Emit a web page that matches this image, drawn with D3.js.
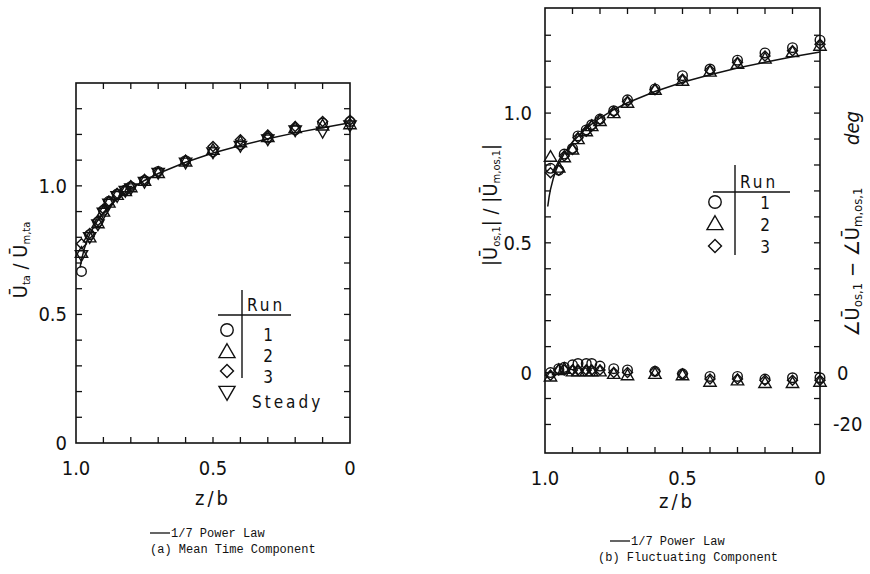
<!DOCTYPE html>
<html><head><meta charset="utf-8">
<script src="https://cdn.jsdelivr.net/npm/d3@7/dist/d3.min.js"></script>
<style>
body{margin:0;background:#fff;}
svg{display:block;}
.tk{font-family:"Liberation Sans Narrow","DejaVu Sans Condensed","Liberation Sans",sans-serif;font-size:20px;fill:#111;}
.lg{font-family:"Liberation Sans Narrow","DejaVu Sans Condensed","Liberation Sans",sans-serif;font-size:17px;fill:#111;}
.cap{font-family:"Liberation Mono","DejaVu Sans Mono",monospace;font-size:12px;fill:#111;}
</style></head><body>
<svg id="c" width="870" height="574"></svg>
<script>
// ---------- DATA ----------
// (a) Mean time component: z/b positions and U_ta/U_m,ta
const zA = [0.98, 0.95, 0.92, 0.90, 0.88, 0.85, 0.82, 0.80, 0.75, 0.70, 0.60, 0.50, 0.40, 0.30, 0.20, 0.10, 0.00];
const meanRun1   = [0.667, 0.810, 0.860, 0.905, 0.940, 0.968, 0.984, 0.997, 1.021, 1.056, 1.098, 1.133, 1.160, 1.186, 1.218, 1.244, 1.250];
const meanRun2   = [0.740, 0.800, 0.855, 0.900, 0.935, 0.965, 0.980, 0.995, 1.020, 1.050, 1.095, 1.140, 1.170, 1.190, 1.225, 1.235, 1.240];
const meanRun3   = [0.775, 0.815, 0.865, 0.910, 0.940, 0.970, 0.985, 1.000, 1.025, 1.055, 1.100, 1.153, 1.179, 1.198, 1.231, 1.250, 1.255];
const meanSteady = [0.730, 0.800, 0.850, 0.895, 0.930, 0.960, 0.980, 0.990, 1.015, 1.050, 1.090, 1.130, 1.155, 1.180, 1.215, 1.210, 1.235];
// 1/7 power law curve
const curveAz = [0.985, 0.98, 0.97, 0.96, 0.95, 0.93, 0.90, 0.85, 0.80, 0.75, 0.70, 0.60, 0.50, 0.40, 0.30, 0.20, 0.10, 0.00];
const curveAv = [0.683, 0.712, 0.754, 0.786, 0.811, 0.851, 0.896, 0.949, 0.989, 1.021, 1.048, 1.092, 1.128, 1.157, 1.183, 1.206, 1.226, 1.245];

// (b) Fluctuating component
const zB = [0.98, 0.95, 0.93, 0.90, 0.88, 0.85, 0.83, 0.80, 0.75, 0.70, 0.60, 0.50, 0.40, 0.30, 0.20, 0.10, 0.00];
const ampRun1 = [0.787, 0.780, 0.842, 0.864, 0.912, 0.935, 0.955, 0.977, 1.009, 1.051, 1.093, 1.144, 1.170, 1.204, 1.232, 1.252, 1.281];
const ampRun2 = [0.832, 0.790, 0.830, 0.860, 0.900, 0.930, 0.950, 0.970, 1.000, 1.040, 1.090, 1.125, 1.160, 1.190, 1.210, 1.235, 1.260];
const ampRun3 = [0.770, 0.780, 0.835, 0.860, 0.905, 0.930, 0.950, 0.975, 1.005, 1.045, 1.090, 1.130, 1.165, 1.195, 1.220, 1.240, 1.265];
// phase difference, deg
const phRun1 = [0.0, 1.5, 2.0, 3.0, 3.5, 3.5, 3.5, 2.5, 1.5, 1.0, 0.5, -0.5, -1.5, -1.5, -2.5, -2.0, -2.0];
const phRun2 = [-1.5, 1.0, 1.5, 0.5, 0.5, 0.5, 0.5, 0.5, -0.5, -1.0, -0.5, -1.0, -3.5, -3.0, -4.0, -4.0, -3.5];
const phRun3 = [-1.0, 1.0, 1.0, 1.0, 1.0, 1.0, 1.0, 1.0, 0.0, 0.0, 0.5, -0.5, -2.5, -2.5, -3.0, -3.0, -3.0];
const curveBz = [0.99, 0.985, 0.98, 0.97, 0.96, 0.95, 0.93, 0.90, 0.85, 0.80, 0.75, 0.70, 0.60, 0.50, 0.40, 0.30, 0.20, 0.10, 0.00];
const curveBv = [0.640, 0.678, 0.706, 0.748, 0.780, 0.805, 0.845, 0.889, 0.942, 0.981, 1.013, 1.040, 1.083, 1.119, 1.148, 1.174, 1.196, 1.217, 1.235];

const runLabelsA = ["1", "2", "3", "Steady"];
const runLabelsB = ["1", "2", "3"];
const xTickLabels = [["1.0", 1], ["0.5", 0.5], ["0", 0]];
const yTickLabelsA = [["0", 0], ["0.5", 0.5], ["1.0", 1.0]];
const yTickLabelsB = [["0", 0], ["0.5", 0.5], ["1.0", 1.0]];
const degTickLabels = [["0", 0], ["-20", -20]];

// ---------- DRAW ----------
const svg = d3.select("#c");
const ink = "#111";

const xA = d3.scaleLinear().domain([1, 0]).range([76, 350]);
const yA = d3.scaleLinear().domain([0, 1.4]).range([443, 83]);
const xB = d3.scaleLinear().domain([1, 0]).range([545, 820]);
const yB = d3.scaleLinear().domain([-0.31, 1.405]).range([453, 8]);
const yD = d3.scaleLinear().domain([-31, 140.5]).range([453, 8]);

const symTri = d3.symbol().type(d3.symbolTriangle);
const symSq = d3.symbol().type(d3.symbolSquare);
function marker(g, kind, x, y, s) {
  s = s || 1;
  if (kind === 0) g.append("circle").attr("cx", x).attr("cy", y).attr("r", 4.8 * s);
  else if (kind === 1) g.append("path").attr("d", symTri.size(66 * s * s)()).attr("transform", `translate(${x},${y + 1})`);
  else if (kind === 2) g.append("path").attr("d", symSq.size(50 * s * s)()).attr("transform", `translate(${x},${y}) rotate(45)`);
  else g.append("path").attr("d", symTri.size(66 * s * s)()).attr("transform", `translate(${x},${y - 1}) rotate(180)`);
}

function frame(x, y) {
  const [x0, x1] = x.range(), [y0, y1] = y.range();
  svg.append("rect").attr("x", Math.min(x0, x1)).attr("y", Math.min(y0, y1))
    .attr("width", Math.abs(x1 - x0)).attr("height", Math.abs(y1 - y0))
    .attr("fill", "none").attr("stroke", ink).attr("stroke-width", 1.6);
}
function tickAxes(x, y, yt, yRightScale, yRightTicks) {
  const xt = d3.range(0.1, 0.95, 0.1);
  const [yb, ytop] = y.range();
  const [xl, xr] = x.range();
  const g = svg.append("g").attr("stroke", ink).attr("stroke-width", 1.3);
  xt.forEach(v => {
    g.append("line").attr("x1", x(v)).attr("x2", x(v)).attr("y1", yb).attr("y2", yb - 6);
    g.append("line").attr("x1", x(v)).attr("x2", x(v)).attr("y1", ytop).attr("y2", ytop + 6);
  });
  yt.forEach(v => g.append("line").attr("x1", xl).attr("x2", xl + 6).attr("y1", y(v)).attr("y2", y(v)));
  const rs = yRightScale || y, rt = yRightTicks || yt;
  rt.forEach(v => g.append("line").attr("x1", xr).attr("x2", xr - 6).attr("y1", rs(v)).attr("y2", rs(v)));
}
const line = (xs, ys) => d3.line().x(d => xs(d[0])).y(d => ys(d[1]));

// ----- panel (a) -----
frame(xA, yA);
tickAxes(xA, yA, d3.range(0.1, 1.35, 0.1));
svg.append("path").datum(curveAz.map((z, i) => [z, curveAv[i]]))
  .attr("d", line(xA, yA)).attr("fill", "none").attr("stroke", ink).attr("stroke-width", 1.5);
const mA = svg.append("g").attr("fill", "none").attr("stroke", ink).attr("stroke-width", 1.4);
[meanSteady, meanRun3, meanRun2, meanRun1].forEach((arr, k) => {
  const kind = 3 - k;
  arr.forEach((v, i) => marker(mA, kind, xA(zA[i]), yA(v)));
});
svg.append("g").selectAll("text").data(yTickLabelsA).join("text").attr("class", "tk")
  .attr("x", 67).attr("y", d => yA(d[1]) + 7).attr("text-anchor", "end").text(d => d[0]);
svg.append("g").selectAll("text").data(xTickLabels).join("text").attr("class", "tk")
  .attr("x", d => xA(d[1])).attr("y", 475).attr("text-anchor", "middle").text(d => d[0]);
svg.append("text").attr("class", "tk").attr("x", 213).attr("y", 505).attr("text-anchor", "middle")
  .attr("letter-spacing", 3).text("z/b");
{
  const t = svg.append("text").attr("class", "tk").attr("font-size", 17)
    .attr("transform", "translate(27,260) rotate(-90)").attr("text-anchor", "middle");
  t.append("tspan").text("Ū");
  t.append("tspan").attr("font-size", 11).attr("dy", 3).text("ta");
  t.append("tspan").attr("dy", -3).text(" / Ū");
  t.append("tspan").attr("font-size", 11).attr("dy", 3).text("m,ta");
}
{
  const g = svg.append("g");
  g.append("line").attr("x1", 242).attr("x2", 242).attr("y1", 290).attr("y2", 378).attr("stroke", ink).attr("stroke-width", 1.4);
  g.append("line").attr("x1", 218).attr("x2", 291).attr("y1", 315).attr("y2", 315).attr("stroke", ink).attr("stroke-width", 1.4);
  g.append("text").attr("class", "lg").attr("font-size", 18).attr("x", 247).attr("y", 311).attr("letter-spacing", 3).text("Run");
  const ys = [330, 352, 371, 392];
  const ly = [341, 362, 383, 408];
  const sg = g.append("g").attr("fill", "none").attr("stroke", ink).attr("stroke-width", 1.4);
  runLabelsA.forEach((lab, i) => {
    marker(sg, i, 227, ys[i], 1.3);
    const st = lab === "Steady";
    g.append("text").attr("class", "lg").attr("x", st ? 252 : 268).attr("y", ly[i])
      .attr("text-anchor", st ? "start" : "middle").attr("letter-spacing", st ? 3 : 0).text(lab);
  });
}

// ----- panel (b) -----
frame(xB, yB);
tickAxes(xB, yB, d3.range(-0.2, 1.35, 0.1), yD, d3.range(-20, 135, 10));
svg.append("path").datum(curveBz.map((z, i) => [z, curveBv[i]]))
  .attr("d", line(xB, yB)).attr("fill", "none").attr("stroke", ink).attr("stroke-width", 1.5);
const mB = svg.append("g").attr("fill", "none").attr("stroke", ink).attr("stroke-width", 1.4);
[ampRun3, ampRun2, ampRun1].forEach((arr, k) => {
  const kind = 2 - k;
  arr.forEach((v, i) => marker(mB, kind, xB(zB[i]), yB(v)));
});
[phRun3, phRun2, phRun1].forEach((arr, k) => {
  const kind = 2 - k;
  arr.forEach((v, i) => marker(mB, kind, xB(zB[i]), yD(v)));
});
svg.append("g").selectAll("text").data(yTickLabelsB).join("text").attr("class", "tk")
  .attr("x", 532).attr("y", d => yB(d[1]) + 7).attr("text-anchor", "end").text(d => d[0]);
svg.append("g").selectAll("text").data(degTickLabels).join("text").attr("class", "tk")
  .attr("x", d => d[1] === 0 ? 837 : 833).attr("y", d => yD(d[1]) + 7).attr("text-anchor", "start").text(d => d[0]);
svg.append("g").selectAll("text").data(xTickLabels).join("text").attr("class", "tk")
  .attr("x", d => xB(d[1])).attr("y", 485).attr("text-anchor", "middle").text(d => d[0]);
svg.append("text").attr("class", "tk").attr("x", 677).attr("y", 508).attr("text-anchor", "middle")
  .attr("letter-spacing", 3).text("z/b");
{
  const t = svg.append("text").attr("class", "tk").attr("font-size", 18)
    .attr("transform", "translate(497,205) rotate(-90)").attr("text-anchor", "middle");
  t.append("tspan").text("|Ū");
  t.append("tspan").attr("font-size", 11).attr("dy", 3).text("os,1");
  t.append("tspan").attr("dy", -3).text("| / |Ū");
  t.append("tspan").attr("font-size", 11).attr("dy", 3).text("m,os,1");
  t.append("tspan").attr("dy", -3).text("|");
}
{
  const t = svg.append("text").attr("class", "tk").attr("font-size", 21)
    .attr("transform", "translate(859,262) rotate(-90)").attr("text-anchor", "middle");
  t.append("tspan").text("∠Ū");
  t.append("tspan").attr("font-size", 13).attr("dy", 3).text("os,1");
  t.append("tspan").attr("dy", -3).text("  −  ∠Ū");
  t.append("tspan").attr("font-size", 13).attr("dy", 3).text("m,os,1");
  svg.append("text").attr("class", "tk").attr("font-size", 20).attr("font-style", "italic")
    .attr("transform", "translate(859,128) rotate(-90)").attr("text-anchor", "middle").text("deg");
}
{
  const g = svg.append("g");
  g.append("line").attr("x1", 735).attr("x2", 735).attr("y1", 165).attr("y2", 255).attr("stroke", ink).attr("stroke-width", 1.4);
  g.append("line").attr("x1", 713).attr("x2", 790).attr("y1", 192).attr("y2", 192).attr("stroke", ink).attr("stroke-width", 1.4);
  g.append("text").attr("class", "lg").attr("font-size", 18).attr("x", 740).attr("y", 188).attr("letter-spacing", 3).text("Run");
  const ys = [202, 224, 246];
  const sg = g.append("g").attr("fill", "none").attr("stroke", ink).attr("stroke-width", 1.4);
  runLabelsB.forEach((lab, i) => {
    marker(sg, i, 715, ys[i], 1.3);
    g.append("text").attr("class", "lg").attr("x", 765).attr("y", ys[i] + 7).attr("text-anchor", "middle").text(lab);
  });
}

// ----- captions -----
function caption(x, y, lx, sub) {
  svg.append("line").attr("x1", lx).attr("x2", lx + 20).attr("y1", y - 4).attr("y2", y - 4).attr("stroke", ink).attr("stroke-width", 1.3);
  svg.append("text").attr("class", "cap").attr("x", lx + 21).attr("y", y).text("1/7 Power Law");
  svg.append("text").attr("class", "cap").attr("x", x).attr("y", y + 16).text(sub);
}
caption(150, 537, 150, "(a) Mean Time Component");
caption(598, 545, 610, "(b) Fluctuating Component");
</script></body></html>
